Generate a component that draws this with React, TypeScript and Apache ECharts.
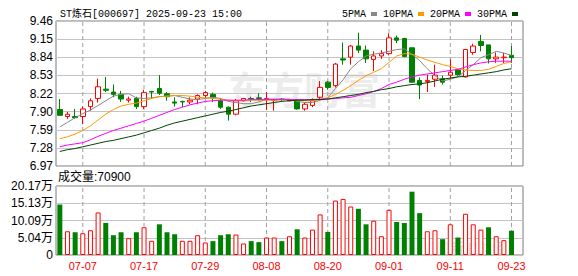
import React, { useEffect, useRef } from "react";
import * as echarts from "echarts";

const dates = [
  "07-02","07-03","07-04","07-07","07-08","07-09","07-10","07-11","07-14","07-15",
  "07-16","07-17","07-18","07-21","07-22","07-23","07-24","07-25","07-28","07-29",
  "07-30","07-31","08-01","08-04","08-05","08-06","08-07","08-08","08-11","08-12",
  "08-13","08-14","08-15","08-18","08-19","08-20","08-21","08-22","08-25","08-26",
  "08-27","08-28","08-29","09-01","09-02","09-03","09-04","09-05","09-08","09-09",
  "09-10","09-11","09-12","09-15","09-16","09-17","09-18","09-19","09-22","09-23",
];
const xTickLabels = ["07-07","07-17","07-29","08-08","08-20","09-01","09-11","09-23"];

const opens = [
  7.94,7.82,7.82,7.82,7.99,8.13,8.29,8.24,8.20,8.10,
  8.13,7.99,8.25,8.30,8.21,8.07,8.08,8.07,8.12,8.18,
  8.20,8.09,7.98,7.86,8.09,8.13,8.14,8.11,8.10,8.12,
  8.09,8.09,7.95,8.01,8.15,8.41,8.35,8.81,8.84,9.03,
  8.96,8.80,8.86,8.90,9.17,9.16,9.00,8.44,8.42,8.46,
  8.47,8.53,8.62,8.50,8.92,9.11,9.05,8.81,8.83,8.87,
];
const closes = [
  7.84,7.86,7.80,7.95,8.09,8.33,8.27,8.20,8.12,8.12,
  7.99,8.23,8.24,8.22,8.16,8.05,8.07,8.10,8.18,8.23,
  8.15,7.98,7.86,8.09,8.13,8.12,8.13,8.13,8.11,8.11,
  8.10,7.95,8.03,8.09,8.32,8.32,8.72,8.79,9.03,8.96,
  8.81,8.86,8.90,9.17,9.13,8.85,8.41,8.36,8.44,8.53,
  8.41,8.58,8.54,8.97,9.03,9.04,8.81,8.84,8.84,8.83,
];
const lows = [
  7.83,7.78,7.78,7.69,7.92,8.06,8.24,8.15,8.07,8.06,
  7.95,7.95,8.12,8.19,8.09,7.99,7.98,8.03,8.03,8.13,
  8.07,7.95,7.75,7.84,8.08,8.07,8.10,7.93,7.92,8.09,
  8.08,7.94,7.92,7.98,8.12,8.28,8.32,8.71,8.71,8.91,
  8.74,8.60,8.81,8.87,9.08,8.84,8.40,8.12,8.24,8.33,
  8.37,8.47,8.52,8.49,8.88,8.94,8.73,8.74,8.74,8.74,
];
const highs = [
  8.12,7.90,7.95,7.99,8.13,8.47,8.50,8.37,8.26,8.16,
  8.16,8.28,8.26,8.53,8.24,8.15,8.09,8.15,8.20,8.26,
  8.23,8.13,7.99,8.12,8.14,8.16,8.22,8.24,8.12,8.14,
  8.11,8.12,8.06,8.13,8.43,8.43,8.74,9.09,9.05,9.26,
  9.04,8.94,8.96,9.25,9.21,9.17,9.00,8.49,8.54,8.71,
  8.52,8.80,8.63,8.98,9.07,9.22,9.05,8.92,8.91,9.03,
];

const ma5 = [
  7.64,7.72,7.80,7.87,7.93,8.01,8.09,8.17,8.20,8.21,
  8.14,8.13,8.14,8.16,8.17,8.18,8.15,8.12,8.11,8.13,
  8.15,8.13,8.08,8.06,8.04,8.04,8.07,8.12,8.12,8.12,
  8.12,8.08,8.06,8.06,8.10,8.14,8.30,8.45,8.64,8.76,
  8.86,8.89,8.91,8.94,8.97,8.98,8.89,8.78,8.64,8.52,
  8.43,8.46,8.50,8.61,8.71,8.83,8.88,8.94,8.91,8.87,
];
const ma10 = [
  7.44,7.47,7.52,7.58,7.66,7.76,7.86,7.94,8.00,8.03,
  8.05,8.09,8.13,8.16,8.17,8.18,8.18,8.17,8.15,8.14,
  8.13,8.12,8.10,8.09,8.09,8.10,8.10,8.10,8.10,8.11,
  8.11,8.10,8.09,8.09,8.11,8.14,8.20,8.27,8.35,8.44,
  8.52,8.58,8.64,8.75,8.86,8.90,8.89,8.84,8.79,8.75,
  8.71,8.68,8.64,8.62,8.61,8.61,8.63,8.68,8.73,8.76,
];
const ma20 = [
  7.30,7.33,7.35,7.37,7.42,7.48,7.53,7.58,7.62,7.66,
  7.70,7.74,7.79,7.84,7.89,7.94,7.98,8.02,8.05,8.08,
  8.09,8.10,8.10,8.10,8.10,8.11,8.11,8.11,8.11,8.11,
  8.11,8.11,8.11,8.11,8.12,8.12,8.13,8.14,8.15,8.18,
  8.21,8.25,8.30,8.37,8.41,8.46,8.50,8.53,8.55,8.57,
  8.59,8.61,8.63,8.67,8.71,8.74,8.76,8.77,8.77,8.77,
];
const ma30 = [
  7.22,7.25,7.27,7.30,7.33,7.36,7.39,7.41,7.44,7.47,
  7.50,7.54,7.58,7.62,7.67,7.71,7.74,7.77,7.80,7.83,
  7.86,7.89,7.91,7.94,7.97,8.00,8.02,8.04,8.06,8.08,
  8.09,8.10,8.10,8.11,8.11,8.12,8.14,8.16,8.18,8.20,
  8.23,8.25,8.28,8.30,8.33,8.35,8.37,8.38,8.40,8.43,
  8.46,8.48,8.50,8.51,8.53,8.55,8.57,8.59,8.62,8.64,
];

// volume in 万
const volumes = [
  14.75,6.94,6.65,6.36,7.23,12.44,9.35,5.78,6.65,4.92,
  6.65,8.10,4.15,8.97,6.65,6.07,4.15,4.15,5.78,3.66,
  4.05,5.78,6.07,5.98,3.37,4.05,3.76,5.11,5.11,4.05,
  5.49,7.52,5.11,7.42,11.86,6.75,15.91,16.39,14.17,13.50,
  8.97,10.03,5.49,13.21,9.64,9.35,18.51,12.24,6.94,7.23,
  4.63,8.97,5.11,12.05,8.97,7.42,8.10,5.49,4.34,7.09,
];
const volUp = [
  0,1,0,1,1,1,0,0,0,1,
  0,1,1,0,0,0,1,1,1,1,
  0,0,0,1,1,0,0,1,1,0,
  1,0,1,1,1,0,1,1,1,0,
  0,1,1,1,0,0,0,0,1,1,
  0,1,0,1,1,1,0,1,1,0,
];

const priceLabels = ["6.97","7.28","7.59","7.90","8.22","8.53","8.84","9.15","9.46"];
const volLabels = ["0","5.04万","10.09万","15.13万","20.17万"];
const maNames = ["5PMA","10PMA","20PMA","30PMA"];
const maColors = ["#888888","#ff9900","#ff00ff","#004400"];

const titleText = "ST炼石[000697] 2025-09-23 15:00";
const volTitle = "成交量:70900";

const RED = "#ff0000";
const GREEN = "#008000";
const SANS = "'Liberation Sans','Noto Sans CJK SC',sans-serif";
const MONO = "'Liberation Mono','Noto Sans CJK SC',monospace";

export default function App() {
  const ref = useRef<HTMLDivElement>(null);
  useEffect(() => {
    const chart = echarts.init(ref.current!, null, { renderer: "svg" });
    const pMin = Number(priceLabels[0]);
    const pMax = Number(priceLabels[priceLabels.length - 1]);
    const pStep = (pMax - pMin) / (priceLabels.length - 1);
    const priceTicks = priceLabels.map((_, i) => pMin + i * pStep);
    const vMax = Number(volLabels[volLabels.length - 1].replace("万", ""));
    const vStep = vMax / (volLabels.length - 1);
    const cats = [...dates, ""];
    const candleData = opens.map((o, i) => [o, closes[i], lows[i], highs[i]]);
    const volData = volumes.map((v, i) => ({
      value: v,
      itemStyle: volUp[i]
        ? { color: "#ffffff", borderColor: RED, borderWidth: 1 }
        : { color: GREEN, borderColor: GREEN, borderWidth: 0 },
    }));
    const mas = [ma5, ma10, ma20, ma30];
    const isLabelled = (i: number) => xTickLabels.includes(cats[i]);

    // dashed vertical date lines: one two-point line series per labelled date
    const dateLines = (xAxisIndex: number, yAxisIndex: number, lo: number, hi: number) =>
      xTickLabels.map((d) => ({
        type: "line",
        xAxisIndex,
        yAxisIndex,
        z: 1,
        silent: true,
        showSymbol: false,
        symbol: "none",
        animation: false,
        data: [
          [d, lo],
          [d, hi],
        ],
        lineStyle: { color: "#a0a0a0", width: 1, type: [4, 3] },
        emphasis: { disabled: true },
        tooltip: { show: false },
      }));

    const catAxis = (gridIndex: number, labels: boolean) => ({
      type: "category",
      gridIndex,
      data: cats,
      boundaryGap: true,
      axisLine: { show: false },
      axisTick: { show: false },
      axisLabel: {
        show: labels,
        interval: (i: number) => isLabelled(i),
        color: RED,
        fontSize: 11,
        fontFamily: SANS,
        margin: 5,
      },
      splitLine: { show: false },
    });
    chart.setOption({
      animation: false,
      backgroundColor: "#ffffff",
      title: {
        text: titleText,
        left: 55,
        top: 4,
        textStyle: { fontSize: 10, fontWeight: "normal", color: "#000", fontFamily: MONO },
      },
      legend: {
        data: maNames,
        left: 337,
        top: 4,
        align: "right",
        icon: "rect",
        itemWidth: 6,
        itemHeight: 4,
        itemGap: 6,
        textStyle: { fontSize: 10, color: "#000", fontFamily: MONO },
      },
      graphic: [
        {
          type: "text",
          left: 228,
          top: 72,
          z: 0,
          silent: true,
          style: { text: "东方财富", fontSize: 38, fontWeight: "bold", fill: "#ececec", fontFamily: SANS },
        },
        {
          type: "text",
          left: 436,
          top: 241,
          z: 0,
          silent: true,
          style: { text: "◎新浪财经", fontSize: 14, fill: "#dcdcdc", fontFamily: SANS },
        },
        {
          type: "text",
          left: 58,
          top: 171,
          style: { text: volTitle, fontSize: 12, fill: "#000", fontFamily: SANS },
        },
      ],
      grid: [
        { left: 56, top: 21, width: 467, height: 145, show: true, borderColor: "#7a7a7a", borderWidth: 1, backgroundColor: "rgba(0,0,0,0)" },
        { left: 56, top: 186, width: 467, height: 69, show: true, borderColor: "#7a7a7a", borderWidth: 1, backgroundColor: "rgba(0,0,0,0)" },
      ],
      xAxis: [catAxis(0, false), catAxis(1, true)],
      yAxis: [
        {
          type: "value",
          gridIndex: 0,
          min: pMin,
          max: pMax,
          axisLine: { show: false },
          axisTick: { show: false, customValues: priceTicks },
          axisLabel: {
            customValues: priceTicks,
            formatter: (v: number) => priceLabels[Math.round((v - pMin) / pStep)],
            color: "#000",
            fontSize: 12,
            fontFamily: SANS,
            margin: 3,
          },
          splitLine: { show: true, lineStyle: { color: "#c4c4c4", width: 1 } },
        },
        {
          type: "value",
          gridIndex: 1,
          min: 0,
          max: vMax,
          interval: vStep,
          axisLine: { show: false },
          axisTick: { show: false },
          axisLabel: {
            formatter: (v: number) => volLabels[Math.round(v / vStep)],
            color: "#000",
            fontSize: 12,
            fontFamily: SANS,
            margin: 3,
          },
          splitLine: { show: true, lineStyle: { color: "#c4c4c4", width: 1 } },
        },
      ],
      series: [
        ...dateLines(0, 0, pMin, pMax),
        ...dateLines(1, 1, 0, vMax),
        {
          type: "candlestick",
          xAxisIndex: 0,
          yAxisIndex: 0,
          data: candleData,
          barWidth: 5,
          itemStyle: {
            color: "#ffffff",
            color0: GREEN,
            borderColor: RED,
            borderColor0: GREEN,
            borderWidth: 1,
          },
        },
        ...mas.map((m, k) => ({
          type: "line",
          name: maNames[k],
          xAxisIndex: 0,
          yAxisIndex: 0,
          data: m,
          color: maColors[k],
          showSymbol: false,
          symbol: "none",
          lineStyle: { width: 1, color: maColors[k] },
          z: 3,
        })),
        {
          type: "bar",
          xAxisIndex: 1,
          yAxisIndex: 1,
          data: volData,
          barWidth: 5,
        },
      ],
    });
    return () => chart.dispose();
  }, []);
  return <div ref={ref} style={{ position: "fixed", left: 0, top: 0, width: 578, height: 276 }} />;
}
